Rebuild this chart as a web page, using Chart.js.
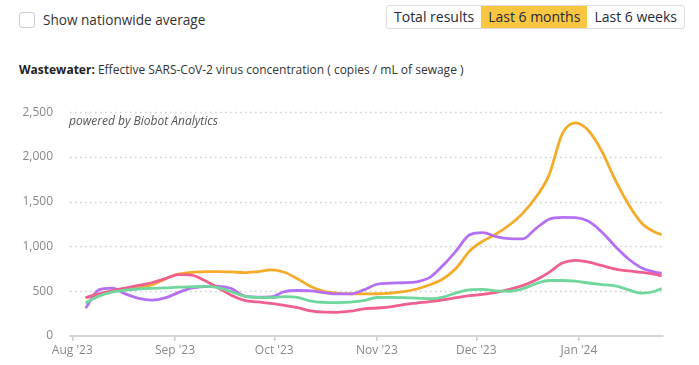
<!DOCTYPE html>
<html lang="en">
  <head>
    <meta charset="UTF-8" />
    <title>Wastewater</title>
    <script src="https://cdn.jsdelivr.net/npm/chart.js@4.4.1/dist/chart.umd.min.js"></script>
    <style>
      body {
        margin: 0;
        width: 699px;
        height: 365px;
        background: #fff;
        font-family: "Open Sans", "Noto Sans", sans-serif;
        color: #333;
        position: relative;
        overflow: hidden;
      }
      .check {
        position: absolute;
        left: 19px;
        top: 10px;
        display: flex;
        align-items: center;
        font-size: 13.6px;
        color: #333;
      }
      .check span.box {
        width: 14px;
        height: 14px;
        border: 1px solid #ccc;
        border-radius: 3px;
        margin-right: 8px;
      }
      .tabs {
        position: absolute;
        left: 386px;
        top: 5px;
        display: flex;
        border: 1px solid #ddd;
        border-radius: 3px;
        overflow: hidden;
      }
      .tabs div {
        height: 22px;
        line-height: 22px;
        font-size: 14px;
        color: #1e2a3a;
        padding: 0 7px;
      }
      .tabs div.on {
        background: #f9c642;
      }
      .title {
        position: absolute;
        left: 19px;
        top: 61px;
        font-size: 12px;
        color: #333;
        white-space: nowrap;
      }
      .title b {
        color: #222;
      }
      .powered {
        position: absolute;
        left: 69px;
        top: 112px;
        font-size: 12px;
        font-style: italic;
        color: #555;
      }
      .wrap {
        position: absolute;
        left: 0;
        top: 96px;
        width: 699px;
        height: 269px;
      }
    </style>
  </head>
  <body>
    <div class="check"><span class="box"></span>Show nationwide average</div>
    <div class="tabs">
      <div>Total results</div>
      <div class="on">Last 6 months</div>
      <div>Last 6 weeks</div>
    </div>
    <div class="title">
      <b>Wastewater:</b> Effective SARS-CoV-2 virus concentration ( copies / mL of sewage )
    </div>
    <div class="wrap"><canvas id="myChart"></canvas></div>
    <div class="powered">powered by Biobot Analytics</div>
    <script>
      // days since Aug 1 2023
      const days = [4, 8, 12, 16, 20, 24, 28, 32, 36, 40, 44, 48, 52, 56, 60, 64, 68, 72, 76, 80, 84, 88, 92, 96, 100, 104, 108, 112, 116, 120, 124, 128, 132, 136, 140, 144, 148, 152, 156, 160, 164, 168, 172, 176, 178]

      const orange = [425, 465, 500, 525, 545, 570, 635, 690, 710, 718, 720, 716, 708, 720, 738, 712, 640, 553, 500, 480, 472, 470, 472, 480, 495, 525, 573, 640, 760, 950, 1060, 1140, 1240, 1370, 1550, 1800, 2260, 2380, 2290, 2058, 1740, 1470, 1260, 1160, 1134]
      const purple = [310, 515, 535, 470, 420, 400, 425, 485, 535, 552, 555, 530, 445, 435, 437, 495, 508, 505, 485, 470, 470, 515, 578, 590, 595, 605, 655, 790, 955, 1130, 1155, 1110, 1087, 1085, 1200, 1305, 1325, 1323, 1280, 1160, 1000, 860, 760, 715, 700]
      const pink = [430, 470, 505, 535, 565, 595, 640, 685, 680, 620, 540, 455, 398, 380, 365, 343, 318, 280, 266, 265, 278, 303, 313, 325, 350, 368, 385, 405, 428, 450, 465, 488, 520, 563, 625, 710, 815, 845, 825, 785, 748, 727, 710, 688, 672]
      const green = [370, 445, 490, 512, 525, 532, 537, 545, 550, 554, 540, 495, 445, 430, 428, 440, 432, 390, 376, 373, 378, 395, 430, 432, 428, 423, 416, 435, 482, 515, 520, 505, 500, 527, 585, 620, 620, 612, 592, 575, 560, 515, 478, 500, 529]

      const tickDays = [0, 31, 61, 92, 122, 153]
      const tickLabels = ["Aug '23", "Sep '23", "Oct '23", "Nov '23", "Dec '23", "Jan '24"]

      function toPoints(values) {
        return values.map((v, i) => ({ x: days[i], y: v }))
      }

      function line(values, color) {
        return {
          data: toPoints(values),
          borderColor: color,
          borderWidth: 2.8,
          pointRadius: 0,
          cubicInterpolationMode: "monotone",
        }
      }

      // dotted horizontal grid lines
      const dottedGrid = {
        id: "dottedGrid",
        beforeDatasetsDraw(chart) {
          const { ctx, chartArea, scales } = chart
          const y = scales.y
          ctx.save()
          ctx.strokeStyle = "#d0d0d0"
          ctx.lineWidth = 1.6
          ctx.setLineDash([1.6, 3.4])
          y.ticks.forEach((t) => {
            if (t.value === 0) return
            const py = Math.round(y.getPixelForValue(t.value)) + 0.5
            ctx.beginPath()
            ctx.moveTo(chartArea.left, py)
            ctx.lineTo(chartArea.right, py)
            ctx.stroke()
          })
          ctx.restore()
        },
      }

      Chart.defaults.font.family = '"Open Sans", "Noto Sans", sans-serif'
      Chart.defaults.font.size = 12
      Chart.defaults.color = "#888"

      const ctx = document.getElementById("myChart").getContext("2d")
      const myChart = new Chart(ctx, {
        type: "line",
        data: {
          datasets: [
            line(green, "#6fd69c"),
            line(pink, "#ef5f8f"),
            line(purple, "#b56ff3"),
            line(orange, "#f4ab29"),
          ],
        },
        options: {
          animation: false,
          responsive: true,
          maintainAspectRatio: false,
          layout: { padding: { top: 3, right: 36, left: 0, bottom: 0 } },
          plugins: { legend: { display: false }, tooltip: { enabled: false } },
          scales: {
            x: {
              type: "linear",
              min: -0.7,
              max: 178.4,
              afterBuildTicks: (axis) => {
                axis.ticks = tickDays.map((v) => ({ value: v }))
              },
              afterFit: (axis) => {
                axis.height = 29
              },
              ticks: {
                padding: 2,
                maxRotation: 0,
                callback: (v) => tickLabels[tickDays.indexOf(v)],
              },
              grid: {
                drawOnChartArea: false,
                drawTicks: true,
                tickLength: 5,
                color: "#ccc",
                lineWidth: 1.5,
              },
              border: { color: "#d4d4d4", width: 2 },
            },
            y: {
              min: 0,
              max: 2500,
              afterFit: (axis) => {
                axis.width = 70
              },
              ticks: { stepSize: 500, padding: 9 },
              grid: { display: false },
              border: { display: false },
            },
          },
        },
        plugins: [dottedGrid],
      })
    </script>
  </body>
</html>
